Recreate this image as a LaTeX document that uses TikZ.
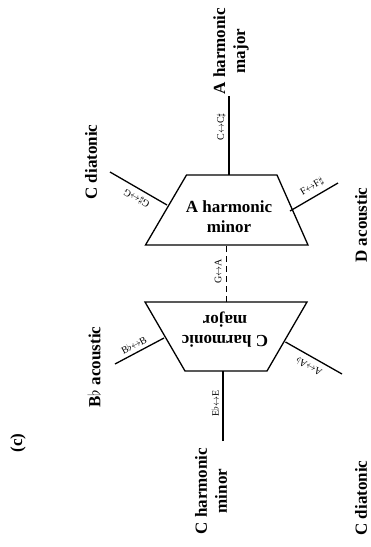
\documentclass[tikz,border=0pt]{standalone}
\usepackage{fontspec}
\setmainfont{Liberation Serif}
\begin{document}
\begin{tikzpicture}[x=1pt,y=-1pt,
  trap/.style={draw, line width=1.3pt, line join=miter},
  conn/.style={line width=1.3pt},
  big/.style={font=\fontsize{17}{20}\selectfont\bfseries, align=center, inner sep=0pt},
  elab/.style={font=\fontsize{10}{12}\selectfont, inner sep=0pt, sloped, allow upside down}]
\useasboundingbox (0,0) rectangle (371,547);
% upper trapezium corners and attach points
\coordinate (uTL) at (186.5,175); \coordinate (uTR) at (277,175);
\coordinate (uBR) at (308,245);   \coordinate (uBL) at (145.5,245);
\coordinate (uN) at (229,175); \coordinate (uS) at (226.5,245);
\coordinate (uW) at (167,205); \coordinate (uE) at (290,211);
\draw[trap] (uTL) -- (uTR) -- (uBR) -- (uBL) -- cycle;
% lower trapezium
\coordinate (lTL) at (145,302); \coordinate (lTR) at (307,302);
\coordinate (lBR) at (267,371); \coordinate (lBL) at (185,371);
\coordinate (lN) at (226.5,302); \coordinate (lS) at (223,371);
\coordinate (lW) at (164,338); \coordinate (lE) at (285.5,342);
\draw[trap] (lTL) -- (lTR) -- (lBR) -- (lBL) -- cycle;
\node[big] (umt) at (229,217) {A harmonic\\minor};
\node[big, rotate=180] (lmt) at (225,330) {C harmonic\\major};
% free ends
\coordinate (eT) at (229,96);
\coordinate (eUL) at (110,172);
\coordinate (eUR) at (338,183);
\coordinate (eLL) at (115,364);
\coordinate (eLR) at (342,374);
\coordinate (eB) at (223,441);
% connectors with their labels
\draw[conn] (uN) -- node[elab, pos=0.61, above=2.5pt] (l1) {C$\leftrightarrow$C$\sharp$} (eT);
\draw[conn] (uW) -- node[elab, pos=0.45, above=4pt] (l2) {G$\sharp$$\leftrightarrow$G} (eUL);
\draw[conn] (uE) -- node[elab, pos=0.56, above=4.5pt] (l3) {F$\leftrightarrow$F$\sharp$} (eUR);
\draw[conn, dash pattern=on 6pt off 4pt] (lN) -- node[elab, pos=0.54, above=4.5pt] (l4) {G$\leftrightarrow$A} (uS);
\draw[conn] (eLL) -- node[elab, pos=0.46, above=3.5pt] (l5) {B$\flat$$\leftrightarrow$B} (lW);
\draw[conn] (eLR) -- node[elab, pos=0.5, above=6pt] (l6) {A$\leftrightarrow$A$\flat$} (lE);
\draw[conn] (eB) -- node[elab, pos=0.54, above=3.5pt] (l7) {E$\flat$$\leftrightarrow$E} (lS);
% outer labels
\node[big, rotate=90] (ahm) at (231,51) {A harmonic\\major};
\node[big, rotate=90] (cdu) at (91,162) {C diatonic};
\node[big, rotate=90] (dac) at (361,225) {D acoustic};
\node[big, rotate=90] (bac) at (94,367) {B$\flat$ acoustic};
\node[big, rotate=90] (cdl) at (361,498) {C diatonic};
\node[big, rotate=90] (chm) at (211,491) {C harmonic\\minor};
\node[big, rotate=90] (lab) at (18,443) {(c)};
\end{tikzpicture}
\end{document}
